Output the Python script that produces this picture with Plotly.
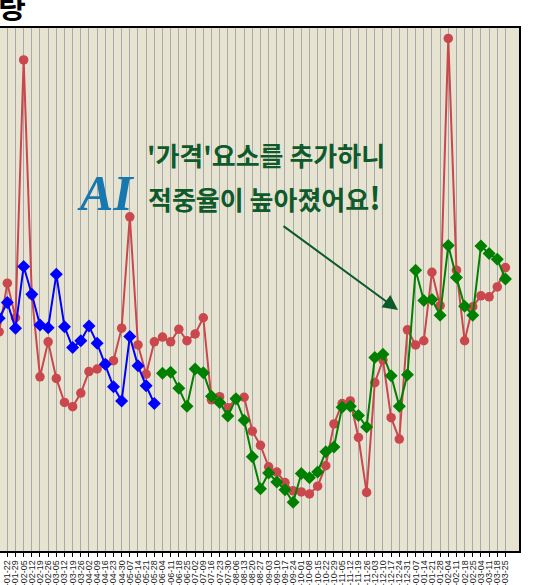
import plotly.graph_objects as go
import pandas as pd

# category labels (weekly dates); first one is just off the left edge
dates = list(pd.date_range("2018-01-15", periods=63, freq="7D").strftime("%Y-%m-%d"))

actual = [41.9, 51.2, 44.6, 93.9, 48.9, 33.3, 40.0, 33.0, 28.4, 27.6,
          30.2, 34.3, 34.8, 35.8, 36.4, 42.6, 63.9, 39.4, 33.8, 40.0,
          40.9, 40.0, 42.4, 40.2, 41.5, 44.6, 28.9, 29.5, 27.4, 29.1,
          29.4, 22.9, 20.2, 16.1, 15.1, 13.1, 11.5, 11.3, 10.9, 12.4,
          16.3, 24.3, 28.2, 28.7, 21.7, 11.2, 32.2, 36.5, 25.5, 21.4,
          42.3, 39.4, 40.2, 53.3, 46.9, 98.0, 53.7, 40.2, 46.7, 48.8,
          48.6, 50.5, 54.2]

pred_old = [44.5, 47.5, 42.6, 54.4, 49.1, 43.2, 42.7, 52.9, 42.9, 38.9,
            40.2, 43.0, 39.7, 35.7, 31.4, 28.7, 41.0, 35.4, 31.6, 28.2]

pred_new = [34.0, 34.2, 31.1, 27.7, 34.8, 34.1, 29.6, 28.4, 25.8, 29.1,
            25.0, 18.0, 11.9, 14.9, 13.2, 11.7, 9.3, 14.8, 14.0, 15.1,
            19.0, 19.9, 27.5, 27.7, 25.9, 23.7, 37.0, 37.6, 33.5, 27.7,
            33.7, 53.7, 47.9, 48.1, 45.1, 58.4, 52.3, 46.8, 45.1, 58.3,
            56.9, 55.8, 52.0]

x_old = dates[:len(pred_old)]
x_new = dates[len(dates) - len(pred_new):]

RED = "#C9474D"
fig = go.Figure()
fig.add_trace(go.Scatter(x=dates, y=actual, mode="lines+markers",
                         line=dict(color=RED, width=2),
                         marker=dict(color=RED, size=9.5, symbol="circle"),
                         name="실제"))
fig.add_trace(go.Scatter(x=x_old, y=pred_old, mode="lines+markers",
                         line=dict(color="#0000FF", width=2),
                         marker=dict(color="#0000FF", size=10, symbol="diamond"),
                         name="기존 예측"))
fig.add_trace(go.Scatter(x=x_new, y=pred_new, mode="lines+markers",
                         line=dict(color="#008000", width=2),
                         marker=dict(color="#008000", size=10, symbol="diamond"),
                         name="개선 예측"))

W_PLOT = 519.0
H_PLOT = 523.0
def px(xp):
    return xp / W_PLOT
def py(yp):
    return (551.0 - yp) / H_PLOT

TXT = "#0E5A2B"
fig.add_annotation(xref="paper", yref="paper", x=px(266), y=py(155),
                   text="<b>'</b>가격<b>'</b>요소를 추가하니", showarrow=False,
                   font=dict(family="Noto Sans CJK KR", size=26, color=TXT, weight="bold"),
                   xanchor="center", yanchor="middle")
fig.add_annotation(xref="paper", yref="paper", x=px(264), y=py(196),
                   text="적중율이 높아졌어요<span style='font-size:31px'>!</span>", showarrow=False,
                   font=dict(family="Noto Sans CJK KR", size=26, color=TXT, weight="bold"),
                   xanchor="center", yanchor="middle")
fig.add_annotation(xref="paper", yref="paper", x=px(105), y=py(193),
                   text="<b><i>AI</i></b>", showarrow=False,
                   font=dict(family="Liberation Serif", size=50, color="#1778B0"),
                   xanchor="center", yanchor="middle")
fig.add_annotation(xref="paper", yref="paper", x=px(398), y=py(310),
                   ax=-116, ay=-85, text="", showarrow=True,
                   arrowhead=2, arrowsize=1.5, arrowwidth=2, arrowcolor="#0B5A2A")
fig.add_annotation(xref="paper", yref="paper", x=px(28), y=py(29),
                   text="<b>주간 판매량</b>", showarrow=False,
                   font=dict(family="Noto Sans CJK KR", size=30, color="black"),
                   xanchor="right", yanchor="bottom")

fig.update_layout(
    width=548, height=585,
    margin=dict(l=0, r=29, t=28, b=34, autoexpand=False),
    paper_bgcolor="white", plot_bgcolor="#E6E4D1",
    showlegend=False,
    xaxis=dict(type="category", range=[0.103, 63.66], automargin=False,
               tickmode="array", tickvals=dates, ticktext=dates,
               tickangle=-90, ticks="outside", ticklen=4, tickcolor="black",
               tickfont=dict(family="Liberation Sans", size=9, color="#222"),
               showgrid=True, gridcolor="#A9A9AD", gridwidth=1,
               showline=True, linecolor="black", linewidth=1.5, mirror=True,
               zeroline=False),
    yaxis=dict(range=[0, 100], side="right", showgrid=False, zeroline=False,
               automargin=False,
               showticklabels=False, ticks="", showline=True,
               linecolor="black", linewidth=1.5),
)

fig.write_html("out.html", config={"displayModeBar": False},
               post_script="document.body.style.margin='0px';document.body.style.overflow='hidden';")
